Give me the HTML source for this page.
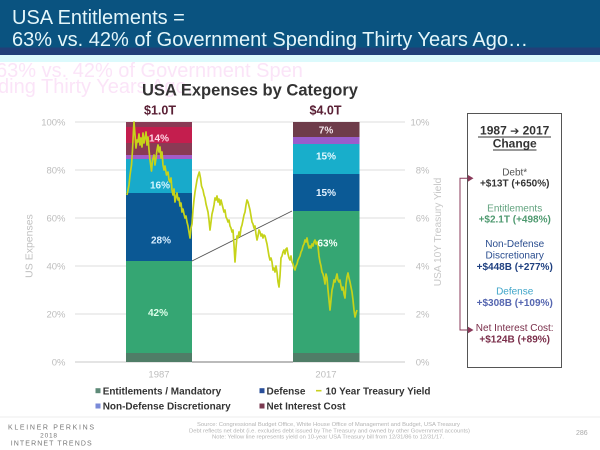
<!DOCTYPE html>
<html>
<head>
<meta charset="utf-8">
<style>
  html,body{margin:0;padding:0;background:#fff;}
  body{width:600px;height:450px;overflow:hidden;}
  svg{display:block;}
  text{font-family:"Liberation Sans",Arial,sans-serif;}
</style>
</head>
<body>
<svg width="600" height="450" viewBox="0 0 600 450" xmlns="http://www.w3.org/2000/svg">
  <!-- header -->
  <rect x="0" y="0" width="600" height="48" fill="#0a5380"/>
  <rect x="0" y="47.5" width="600" height="7.5" fill="#223f78"/>
  <rect x="0" y="55" width="600" height="7" fill="#dcfafc"/>
  <text x="12" y="24" font-size="20" fill="#e4f6fa">USA Entitlements =</text>
  <text x="12" y="46" font-size="20" fill="#e4f6fa" textLength="516" lengthAdjust="spacingAndGlyphs">63% vs. 42% of Government Spending Thirty Years Ago…</text>

  <!-- ghost artifacts -->
  <text x="-4" y="77" font-size="20" fill="#fbe4f8">63% vs. 42% of Government Spen</text>
  <text x="-2" y="93" font-size="20" fill="#fbe4f8">ding Thirty Years Ago…</text>

  <!-- chart title -->
  <text x="250" y="95.5" font-size="16.5" font-weight="bold" fill="#333" text-anchor="middle" textLength="216" lengthAdjust="spacingAndGlyphs">USA Expenses by Category</text>

  <!-- gridlines -->
  <g stroke="#dcdcdc" stroke-width="1">
    <line x1="75" y1="122" x2="405" y2="122"/>
    <line x1="75" y1="170" x2="405" y2="170"/>
    <line x1="75" y1="218" x2="405" y2="218"/>
    <line x1="75" y1="266" x2="405" y2="266"/>
    <line x1="75" y1="314" x2="405" y2="314"/>
  </g>
  <line x1="75" y1="362" x2="405" y2="362" stroke="#c8c8c8" stroke-width="1"/>
  <line x1="192" y1="362" x2="293" y2="362" stroke="#777" stroke-width="1"/>

  <!-- left axis labels -->
  <g font-size="9.5" fill="#bdbdbd" text-anchor="end">
    <text x="65.5" y="125.5">100%</text>
    <text x="65.5" y="173.5">80%</text>
    <text x="65.5" y="221.5">60%</text>
    <text x="65.5" y="269.5">40%</text>
    <text x="65.5" y="317.5">20%</text>
    <text x="65.5" y="365.5">0%</text>
  </g>
  <!-- right axis labels -->
  <g font-size="9.5" fill="#bdbdbd" text-anchor="end">
    <text x="429.5" y="125.5">10%</text>
    <text x="429.5" y="173.5">8%</text>
    <text x="429.5" y="221.5">6%</text>
    <text x="429.5" y="269.5">4%</text>
    <text x="429.5" y="317.5">2%</text>
    <text x="429.5" y="365.5">0%</text>
  </g>
  <text transform="translate(32.5,246) rotate(-90)" font-size="10.5" fill="#c0c0c0" text-anchor="middle">US Expenses</text>
  <text transform="translate(441,232) rotate(-90)" font-size="10.2" fill="#c8c8c8" text-anchor="middle">USA 10Y Treasury Yield</text>

  <!-- bar 1987 -->
  <rect x="126" y="122" width="66" height="5" fill="#8a3a55"/>
  <rect x="126" y="127" width="66" height="16" fill="#c41e4e"/>
  <rect x="126" y="143" width="66" height="12" fill="#8a3a55"/>
  <rect x="126" y="155" width="66" height="4" fill="#a45cc8"/>
  <rect x="126" y="159" width="66" height="34" fill="#18aacb"/>
  <rect x="126" y="193" width="66" height="68" fill="#0b5894"/>
  <rect x="126" y="261" width="66" height="92" fill="#35a673"/>
  <rect x="126" y="353" width="66" height="9" fill="#4f7d67"/>

  <!-- bar 2017 -->
  <rect x="293" y="122" width="66.5" height="15" fill="#6e3c4a"/>
  <rect x="293" y="137" width="66.5" height="7" fill="#9a5ccc"/>
  <rect x="293" y="144" width="66.5" height="30" fill="#18aecb"/>
  <rect x="293" y="174" width="66.5" height="37" fill="#0b5a96"/>
  <rect x="293" y="211" width="66.5" height="142" fill="#35a673"/>
  <rect x="293" y="353" width="66.5" height="9" fill="#4f7d67"/>

  <!-- connector -->
  <line x1="192" y1="261" x2="292" y2="211" stroke="#555" stroke-width="0.9"/>

  <!-- bar totals -->
  <text x="160" y="114.5" font-size="12.5" font-weight="bold" fill="#5a2035" text-anchor="middle">$1.0T</text>
  <text x="325.5" y="114.5" font-size="12.5" font-weight="bold" fill="#5a2035" text-anchor="middle">$4.0T</text>

  <!-- treasury yield line -->
  <polyline fill="none" stroke="#c6d31a" stroke-width="1.7" stroke-linejoin="round" points="
127,195 129,185 130,175 131.5,165 132.5,150 133.5,130 134,122 135,135 136,148 137,140 138,142 139,134 140,145 141,138 142,147 143,133 144,143 145,138 146,132 147,145 148,137 149,150 150,160 151.5,171 152.5,160 154,155 155,165 156,158 157,150 158,145 159,152 160,147 161,158 162,152 163,165 164,170 165,166 166.5,175 168,172 169,180 170,182 171,178 172,190 173,195 174,189 175,202 176,197 177,193 178,200 179,198 180,206 181,203 182,212 183,209 184,214 185,218 186,216 187,222 188,226 189,232 190,238 191,228 192,224 193,210 194,200 195,192 196,186 197,180 198,176 199.3,172 200.5,178 201.5,186 203,190 204,195 205,198 206,204 207,208 208,212 209,220 210,230 211,222 212,214 213,210 214,205 215,198 216,200 217,196 218,202 219,199 220,205 221,200 222,204 223,208 224,212 225,210 226,217 227,219 228,222 229,220 230,226 231,228 232,232 233,230 234,245 235,262 236,248 237,236 238,238 239,232 240,236 241,228 242,225 243,220 244,215 245,212 246,205 247,200 248,202 249,206 250,210 251,216 252,222 253,224 254,228 255,226 256,234 257,240 258,236 259,230 260,232 261,236 262,234 263,238 264,235 265,236 266,240 267,244 268,250 269,256 270,260 271,258 272,262 273,270 274,268 275,272 276,266 277,272 278,282 279,287 280,276 281,258 282,256 283,252 284,250 285,254 286,249 287,248 288,254 289,258 290,260 291,256 292,262 293,264 294,268 295,270 296,266 297,264 298,260 299,258 300,256 301,252 302,250 303,246 304,244 305,240 306,242 307,238 308,244 309,248 310,246 311,248 312,244 313,246 314,242 315,240 316,244 317,242 318,246 319,256 320,262 321,266 322,272 323,274 324,278 325,284 326,274 327,278 328,290 329,300 330,310 331,300 332,290 333,286 334,280 335,282 336,278 337,274 338,280 339,282 340,280 341,286 342,290 343,287 344,294 345,298 346,284 347,277 348,273 349,278 350,282 351,287 352,292 353,300 354,310 355,317 356,313 357,310"/>

  <!-- bar percentages -->
  <g font-size="10" font-weight="bold" text-anchor="middle">
    <text x="159" y="141.5" fill="#ffd6e6">14%</text>
    <text x="160" y="188.5" fill="#d4f6ff">16%</text>
    <text x="161" y="243.5" fill="#d8eeff">28%</text>
    <text x="158" y="316" fill="#dcffe9">42%</text>
    <text x="326" y="133.5" fill="#f4e6ec">7%</text>
    <text x="326" y="159.5" fill="#e4f9ff">15%</text>
    <text x="326" y="196" fill="#e4f2ff">15%</text>
    <text x="327.5" y="246.5" fill="#f4fff8">63%</text>
  </g>

  <!-- x labels -->
  <text x="159" y="377.5" font-size="9.5" fill="#bdbdbd" text-anchor="middle">1987</text>
  <text x="326" y="377.5" font-size="9.5" fill="#bdbdbd" text-anchor="middle">2017</text>

  <!-- change box -->
  <rect x="467.5" y="113.5" width="94" height="254" fill="#fff" stroke="#555" stroke-width="1"/>
  <g text-anchor="middle">
    <text x="514.7" y="134.5" font-size="12" font-weight="bold" fill="#333">1987 <tspan font-family="'DejaVu Sans',sans-serif" font-size="11">➔</tspan> 2017</text>
    <line x1="478" y1="137" x2="551" y2="137" stroke="#333" stroke-width="0.9"/>
    <text x="514.7" y="147.5" font-size="12" font-weight="bold" fill="#333">Change</text>
    <line x1="493" y1="150" x2="536.5" y2="150" stroke="#333" stroke-width="0.9"/>

    <text x="514.7" y="175.5" font-size="10" fill="#555">Debt*</text>
    <text x="514.7" y="186.5" font-size="10" font-weight="bold" fill="#333">+$13T (+650%)</text>

    <text x="514.7" y="211.5" font-size="10" fill="#62a37f">Entitlements</text>
    <text x="514.7" y="222.5" font-size="10" font-weight="bold" fill="#4f9a70">+$2.1T (+498%)</text>

    <text x="514.7" y="247" font-size="10" fill="#2a4d8f">Non-Defense</text>
    <text x="514.7" y="258.5" font-size="10" fill="#2a4d8f">Discretionary</text>
    <text x="514.7" y="270" font-size="10" font-weight="bold" fill="#1f4080">+$448B (+277%)</text>

    <text x="514.7" y="294.5" font-size="10" fill="#3fa5c9">Defense</text>
    <text x="514.7" y="306" font-size="10" font-weight="bold" fill="#5566b0">+$308B (+109%)</text>

    <text x="514.7" y="331" font-size="10" fill="#7a2e4a">Net Interest Cost:</text>
    <text x="514.7" y="342.5" font-size="10" font-weight="bold" fill="#7a2e4a">+$124B  (+89%)</text>
  </g>

  <!-- bracket arrow -->
  <g stroke="#8a3a5a" stroke-width="1" fill="none">
    <polyline points="470,178.3 460,178.3 460,330 470,330"/>
  </g>
  <polygon points="468,175 473.5,178.3 468,181.6" fill="#8a3a5a"/>
  <polygon points="468,326.7 473.5,330 468,333.3" fill="#8a3a5a"/>

  <!-- legend -->
  <g font-size="10" font-weight="bold" fill="#333">
    <rect x="95.5" y="388.2" width="5" height="5" fill="#5e8a78"/>
    <text x="102.7" y="394.3" textLength="118.5" lengthAdjust="spacingAndGlyphs">Entitlements / Mandatory</text>
    <rect x="259.5" y="388.2" width="5" height="5" fill="#2a4f9a"/>
    <text x="266.5" y="394.3">Defense</text>
    <line x1="316" y1="390.7" x2="321.5" y2="390.7" stroke="#c8d020" stroke-width="1.6"/>
    <text x="325.5" y="394.3" textLength="105" lengthAdjust="spacingAndGlyphs">10 Year Treasury Yield</text>
    <rect x="95.5" y="403.5" width="5" height="5" fill="#7a8ad8"/>
    <text x="102.7" y="409.6" textLength="128" lengthAdjust="spacingAndGlyphs">Non-Defense Discretionary</text>
    <rect x="259.5" y="403.5" width="5" height="5" fill="#7a3a50"/>
    <text x="266.5" y="409.6" textLength="79" lengthAdjust="spacingAndGlyphs">Net Interest Cost</text>
  </g>

  <!-- footer -->
  <line x1="0" y1="417" x2="600" y2="417" stroke="#ececec" stroke-width="1"/>
  <text x="8" y="429.5" font-size="7" fill="#777" textLength="86" lengthAdjust="spacing">KLEINER PERKINS</text>
  <text x="49" y="437.5" font-size="6.5" fill="#777" text-anchor="middle" letter-spacing="0.8">2018</text>
  <text x="10.7" y="445.5" font-size="7" fill="#777" textLength="81" lengthAdjust="spacing">INTERNET TRENDS</text>

  <g font-size="5.5" fill="#b4b4b4">
    <text x="197" y="426" textLength="263" lengthAdjust="spacingAndGlyphs">Source: Congressional Budget Office, White House Office of Management and Budget, USA Treasury</text>
    <text x="189" y="432.5" textLength="281" lengthAdjust="spacingAndGlyphs">Debt reflects net debt (i.e. excludes debt issued by The Treasury and owned by other Government accounts)</text>
    <text x="212" y="438.5" textLength="232" lengthAdjust="spacingAndGlyphs">Note: Yellow line represents yield on 10-year USA Treasury bill from 12/31/86 to 12/31/17.</text>
  </g>
  <text x="576" y="435" font-size="7" fill="#aaa">286</text>
</svg>
</body>
</html>
